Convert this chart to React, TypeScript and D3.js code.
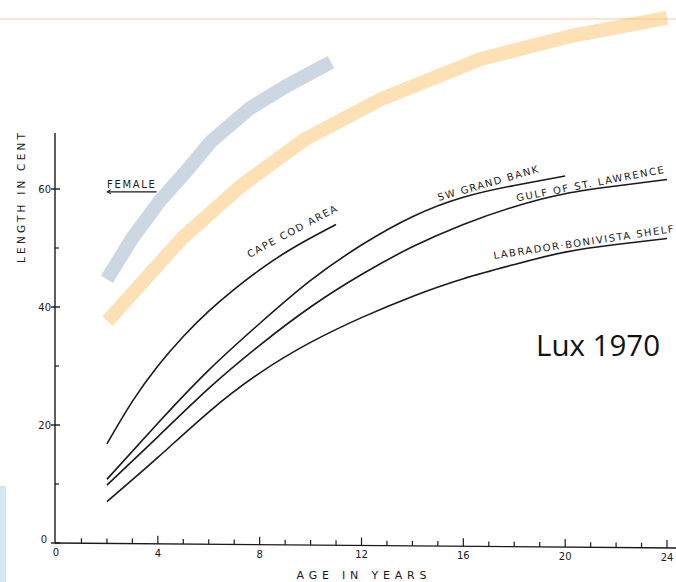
import React from "react";
import * as d3 from "d3";

// ---- data (ages in years, length in cm) ----
const capeAges = [2, 3, 4, 5, 6, 7, 8, 9, 10, 11];
const capeVals = [16.8, 24, 30, 35, 39.3, 43, 46.3, 49.2, 51.7, 54];

const sgAges = [2, 4, 6, 8, 10, 12, 14, 16, 18, 20];
const sgVals = [10.8, 20.3, 29.3, 37.2, 44.5, 50.5, 55.3, 58.6, 60.6, 62.2];

const gulfAges = [2, 4, 6, 8, 10, 12, 14, 16, 18, 20, 22, 24];
const gulfVals = [9.8, 18, 26.2, 33.5, 40, 45.5, 50.2, 54, 57, 59.2, 60.5, 61.6];

const labAges = [2, 4, 6, 8, 10, 12, 14, 16, 18, 20, 22, 24];
const labVals = [7, 14.5, 22.2, 28.8, 34, 38.2, 41.8, 44.8, 47.2, 49.3, 50.6, 51.6];

// overlay lines (thick translucent)
const femaleAges = [2, 3, 4.08, 5.07, 6.1, 7.62, 9.07, 10.8];
const femaleVals = [44.7, 51.7, 58.0, 62.8, 68.1, 73.7, 77.5, 81.5];

const otherAges = [2.02, 4.94, 7.26, 9.8, 12.85, 16.66, 20.2, 24.0];
const otherVals = [37.6, 51.6, 60.5, 68.5, 75.4, 82.0, 85.9, 89.0];

const xTickLabels = [0, 4, 8, 12, 16, 20, 24];
const xMinorTicks = d3.range(1, 25);
const yTickLabels = [0, 20, 40, 60];
const yMinorTicks = [10, 30, 50];

const curveLabels = [
  { text: "CAPE COD AREA", age: 9.33, val: 52.3, angle: -28, len: 100 },
  { text: "SW GRAND BANK", age: 17.0, val: 60.4, angle: -16, len: 104 },
  { text: "GULF OF ST. LAWRENCE", age: 21.0, val: 60.3, angle: -11, len: 150 },
  { text: "LABRADOR·BONIVISTA SHELF", age: 20.74, val: 50.4, angle: -8.5, len: 182 },
];

const W = 676;
const H = 582;

export default function App() {
  const x = d3.scaleLinear().domain([0, 24]).range([56, 667]);
  const y = d3.scaleLinear().domain([0, 60]).range([543, 189]);
  const base = (px: number) => 543 + (px - 55) * (5 / 620);

  const line = d3
    .line<[number, number]>()
    .x((d) => x(d[0]))
    .y((d) => y(d[1]))
    .curve(d3.curveNatural);
  const poly = d3
    .line<[number, number]>()
    .x((d) => x(d[0]))
    .y((d) => y(d[1]));

  const zip = (a: number[], b: number[]) => a.map((v, i) => [v, b[i]] as [number, number]);

  const series = [
    zip(capeAges, capeVals),
    zip(sgAges, sgVals),
    zip(gulfAges, gulfVals),
    zip(labAges, labVals),
  ];

  const ink = "#1a1a1a";
  const scanFont = "'DejaVu Sans', sans-serif";

  return (
    <svg
      width={W}
      height={H}
      viewBox={`0 0 ${W} ${H}`}
      style={{ position: "absolute", left: 0, top: 0, background: "#fff" }}
    >
      <rect x={0} y={0} width={W} height={H} fill="#fff" />
      {/* decorative slide elements */}
      <rect x={0} y={486} width={6} height={96} fill="#d3e9ed" />
      <line x1={0} x2={W} y1={19} y2={19} stroke="#fde4cf" strokeWidth={2} />

      {/* y axis */}
      <line x1={55} x2={55} y1={133} y2={y(0)} stroke={ink} strokeWidth={1.4} />
      {yTickLabels.map((v) => (
        <g key={"yt" + v}>
          <line x1={51} x2={60} y1={y(v)} y2={y(v)} stroke={ink} strokeWidth={1.4} />
          <text
            x={v === 0 ? 47 : 51}
            y={y(v) + (v === 0 ? 0 : 3.5)}
            fontSize={10}
            fontFamily={scanFont}
            textAnchor="end"
            fill={ink}
          >
            {v}
          </text>
        </g>
      ))}
      {yMinorTicks.map((v) => (
        <line key={"ym" + v} x1={55} x2={59} y1={y(v)} y2={y(v)} stroke={ink} strokeWidth={1.2} />
      ))}
      <text
        transform={`translate(25,198) rotate(-90)`}
        fontSize={10.5}
        fontFamily={scanFont}
        textAnchor="middle"
        fill={ink}
        textLength={130}
        lengthAdjust="spacing"
      >
        LENGTH IN CENT
      </text>

      {/* x axis */}
      <line x1={55} x2={W} y1={base(55)} y2={base(W)} stroke={ink} strokeWidth={1.4} />
      {xMinorTicks.map((a) => {
        const px = x(a);
        const major = a % 4 === 0;
        return (
          <line
            key={"xm" + a}
            x1={px}
            x2={px}
            y1={base(px)}
            y2={base(px) - (major ? 8 : 5)}
            stroke={ink}
            strokeWidth={1.2}
          />
        );
      })}
      {xTickLabels.map((a) => (
        <text
          key={"xl" + a}
          x={x(a)}
          y={base(x(a)) + 13}
          fontSize={10}
          fontFamily={scanFont}
          textAnchor="middle"
          fill={ink}
        >
          {a}
        </text>
      ))}
      <text
        x={x(12)}
        y={579}
        fontSize={11}
        fontFamily={scanFont}
        textAnchor="middle"
        fill={ink}
        textLength={130}
        lengthAdjust="spacing"
      >
        AGE IN YEARS
      </text>

      {/* growth curves */}
      {series.map((s, i) => (
        <path key={"c" + i} d={line(s) || ""} fill="none" stroke={ink} strokeWidth={1.6} />
      ))}

      {/* curve labels */}
      {curveLabels.map((l) => (
        <text
          key={l.text}
          transform={`translate(${x(l.age)},${y(l.val)}) rotate(${l.angle})`}
          fontSize={10}
          fontFamily={scanFont}
          textAnchor="middle"
          fill={ink}
          textLength={l.len}
          lengthAdjust="spacing"
        >
          {l.text}
        </text>
      ))}

      {/* FEMALE label */}
      <text
        x={x(2)}
        y={y(60.2)}
        fontSize={10}
        fontFamily={scanFont}
        fill={ink}
        textLength={48}
        lengthAdjust="spacing"
      >
        FEMALE
      </text>
      <line x1={x(2)} x2={x(3.95)} y1={y(60.2) + 4} y2={y(60.2) + 4} stroke={ink} strokeWidth={1.2} />
      <path
        d={`M${x(2) + 4},${y(60.2) + 2} L${x(2)},${y(60.2) + 4} L${x(2) + 4},${y(60.2) + 6}`}
        fill="none"
        stroke={ink}
        strokeWidth={1}
      />

      {/* thick translucent overlays */}
      <path
        d={poly(zip(femaleAges, femaleVals)) || ""}
        fill="none"
        stroke="#9bafc9"
        strokeOpacity={0.5}
        strokeWidth={14}
        strokeLinejoin="round"
      />
      <path
        d={poly(zip(otherAges, otherVals)) || ""}
        fill="none"
        stroke="#fbc167"
        strokeOpacity={0.5}
        strokeWidth={14}
        strokeLinejoin="round"
      />

      <text
        x={536}
        y={356}
        fontSize={29.5}
        fontFamily="'Open Sans', sans-serif"
        fill="#111"
      >
        Lux 1970
      </text>
    </svg>
  );
}
